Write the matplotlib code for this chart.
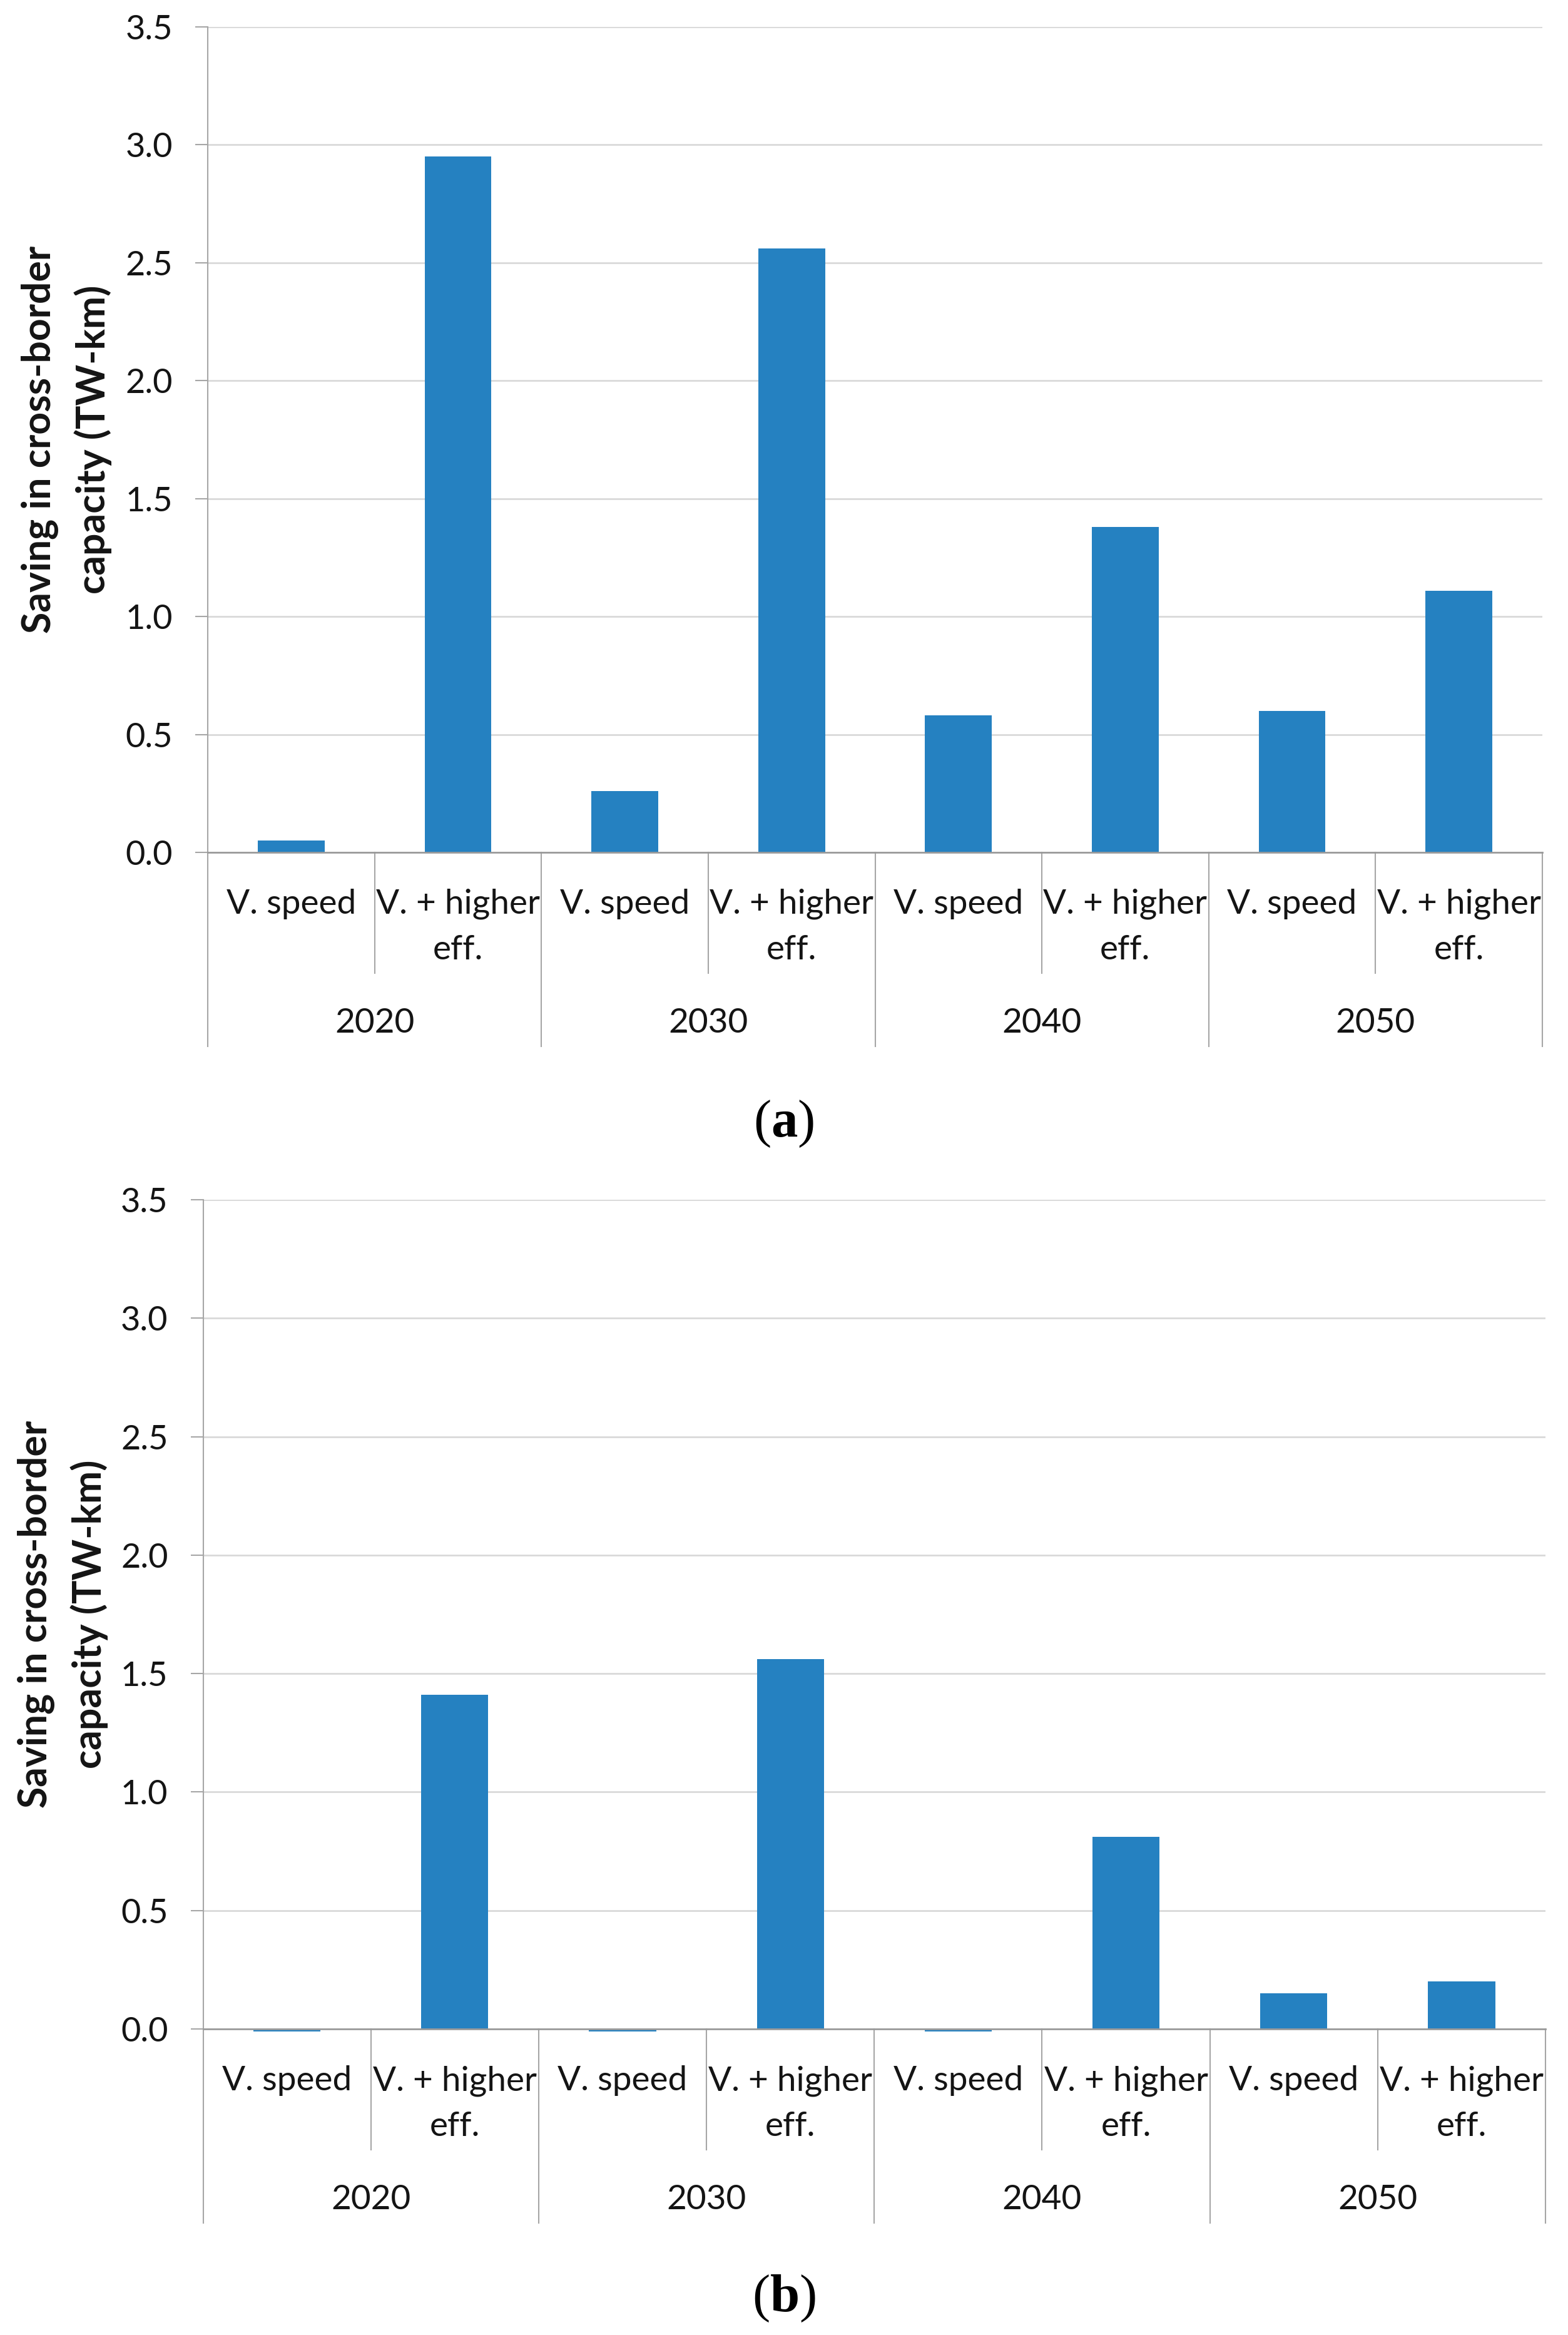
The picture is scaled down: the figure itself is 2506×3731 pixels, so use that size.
import matplotlib
matplotlib.use('Agg')
import matplotlib.pyplot as plt
from matplotlib.transforms import blended_transform_factory

years = ['2020', '2030', '2040', '2050']
measures = ['V. speed', 'V. + higher\neff.']

# panel (a)
speed_a = [0.05, 0.26, 0.58, 0.60]
higher_a = [2.95, 2.56, 1.38, 1.11]

# panel (b)
speed_b = [-0.01, -0.01, -0.01, 0.15]
higher_b = [1.41, 1.56, 0.81, 0.20]

yticks = [0.0, 0.5, 1.0, 1.5, 2.0, 2.5, 3.0, 3.5]
ylabel = 'Saving in cross-border\ncapacity (TW-km)'

BLUE = '#2581c1'
GRID = '#d9d9d9'
AXIS = '#a6a6a6'
TXT = '#141414'

W, H = 2506, 3731

plt.rcParams['font.family'] = ['Lato', 'DejaVu Sans']
plt.rcParams['mathtext.fontset'] = 'custom'
plt.rcParams['mathtext.rm'] = 'Liberation Serif'
plt.rcParams['mathtext.bf'] = 'Liberation Serif:bold'


def pt(v):
    # pixels -> points at dpi 100
    return v * 72 / 100


def panel(fig, box, speed, higher, lab_x, tag, tag_y):
    left, top, right, bottom = box
    ax = fig.add_axes([left / W, 1 - bottom / H, (right - left) / W, (bottom - top) / H])
    ax_h = bottom - top

    values = []
    for s, h in zip(speed, higher):
        values += [s, h]
    xs = list(range(len(values)))

    ax.bar(xs, values, width=0.4, color=BLUE, clip_on=False, zorder=3)
    ax.set_xlim(-0.5, len(values) - 0.5)
    ax.set_ylim(0, 3.5)
    ax.set_yticks(yticks)
    ax.set_yticklabels([f'{t:.1f}' for t in yticks])
    ax.set_xticks([])
    ax.tick_params(axis='y', length=pt(20), width=1.5, color=AXIS, pad=pt(36),
                   labelsize=39, labelcolor=TXT)
    ax.grid(axis='y', color=GRID, lw=2)
    ax.set_axisbelow(True)
    for s in ['top', 'right']:
        ax.spines[s].set_visible(False)
    ax.spines['left'].set_color(AXIS)
    ax.spines['left'].set_linewidth(1.5)
    ax.spines['bottom'].set_color('#9a9a9a')
    ax.spines['bottom'].set_linewidth(2)
    ax.spines['bottom'].set_zorder(4)

    trans = blended_transform_factory(ax.transData, ax.transAxes)
    for i in range(len(values) + 1):
        depth = 310 if i % 2 == 0 else 193
        ax.plot([i - 0.5, i - 0.5], [0, -depth / ax_h], transform=trans,
                clip_on=False, color=AXIS, lw=1.5)

    # category labels, one line at a time so the first baselines line up
    for i in xs:
        for j, line in enumerate(measures[i % 2].split('\n')):
            ax.annotate(line, xy=(i, 0), xycoords=trans,
                        xytext=(0, -pt(98 + 73 * j)), textcoords='offset points',
                        ha='center', va='baseline', fontsize=39.5, color=TXT)
    for g, yr in enumerate(years):
        ax.annotate(yr, xy=(2 * g + 0.5, 0), xycoords=trans,
                    xytext=(0, -pt(288)), textcoords='offset points',
                    ha='center', va='baseline', fontsize=39.5, color=TXT)

    ax.set_ylabel(ylabel, fontsize=45, fontweight='bold', linespacing=1.52,
                  va='center', ha='center', color=TXT)
    ax.yaxis.set_label_coords((lab_x - left) / (right - left), 0.5)

    fig.text(0.5, 1 - tag_y / H, '($\\mathbf{' + tag + '}$)', ha='center',
             va='baseline', fontsize=61, family='Liberation Serif', color='black')
    return ax


fig = plt.figure(figsize=(W / 100, H / 100), dpi=100)
panel(fig, (332, 43, 2465, 1362), speed_a, higher_a, 106, 'a', 1816)
panel(fig, (324.5, 1917, 2470, 3242), speed_b, higher_b, 100, 'b', 3693)

fig.savefig('out.png', dpi=100, facecolor='white')
